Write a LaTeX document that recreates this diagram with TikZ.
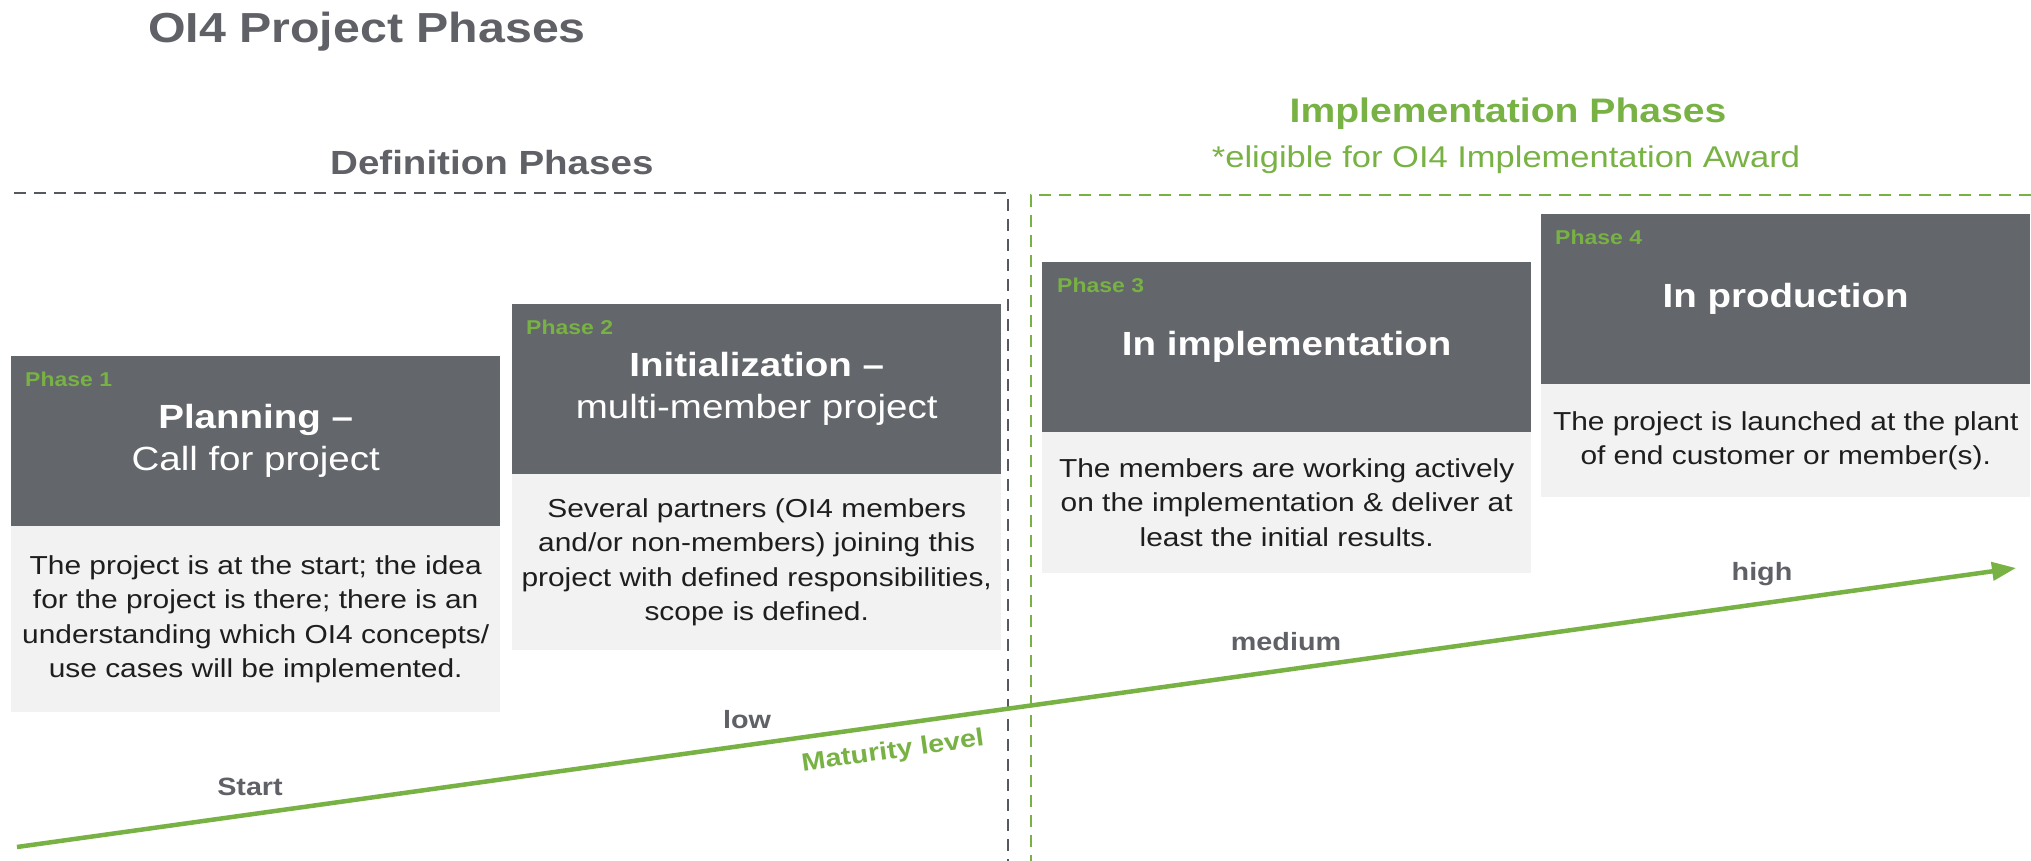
\documentclass[tikz,border=0pt]{standalone}
\usepackage{fontspec}
\setmainfont{Liberation Sans}[FakeStretch=1.15]
\usetikzlibrary{arrows.meta}
\definecolor{dgray}{HTML}{63666A}
\definecolor{lgray}{HTML}{F2F2F2}
\definecolor{tgray}{HTML}{5F6166}
\definecolor{dashgray}{HTML}{55585D}
\definecolor{ogreen}{HTML}{78B244}
\definecolor{bodyc}{HTML}{1E1E1E}
\newcommand{\fsz}[2]{\fontsize{#1}{#2}\selectfont}
\begin{document}
\begin{tikzpicture}[x=1pt,y=-1pt,
  dark/.style={fill=dgray, minimum width=489, minimum height=170, anchor=north west,
    inner sep=0, text=white, align=center, font=\fsz{33.5}{42}},
  light/.style={fill=lgray, minimum width=489, anchor=north west, inner sep=0,
    text=bodyc, align=center, font=\fsz{26}{34.5}},
  phase/.style={anchor=base west, inner sep=0, text=ogreen, font=\fsz{20}{24}\bfseries},
  lvl/.style={anchor=base, inner sep=0, text=tgray, font=\fsz{25}{30}\bfseries},
  gdash/.style={draw=dashgray, line width=2.5, dash pattern=on 12 off 8},
  grdash/.style={draw=ogreen, line width=2.5, dash pattern=on 12 off 8},
  arrowline/.style={draw=ogreen, line width=4.5, -{Triangle[length=24,width=18]}}
]
\useasboundingbox (0,0) rectangle (2031,861);

% title and section headers
\node[anchor=base west, inner sep=0, text=tgray, font=\fsz{42}{50}\bfseries] (title) at (148,43) {OI4 Project Phases};
\node[anchor=base west, inner sep=0, text=tgray, font=\fsz{33.5}{40}\bfseries] (defh) at (330,175) {Definition Phases};
\node[anchor=base, inner sep=0, text=ogreen, font=\fsz{34}{40}\bfseries] (imph) at (1508,123) {Implementation Phases};
\node[anchor=base, inner sep=0, text=ogreen, font=\fsz{30}{36}] (elig) at (1506,168) {*eligible for OI4 Implementation Award};

% dashed frames
\draw[gdash] (14,193) -- (1008,193) -- (1008,861);
\draw[grdash] (2031,195) -- (1031,195) -- (1031,861);

% boxes
\node[dark] (h1) at (11,356) {\textbf{Planning –}\\Call for project};
\node[light, minimum height=186] (b1) at (11,526) {The project is at the start; the idea\\for the project is there; there is an\\understanding which OI4 concepts/\\use cases will be implemented.};
\node[phase] (p1) at (25,386) {Phase 1};

\node[dark] (h2) at (512,304) {\textbf{Initialization –}\\multi-member project};
\node[light, minimum height=176] (b2) at (512,474) {Several partners (OI4 members\\and/or non-members) joining this\\project with defined responsibilities,\\scope is defined.};
\node[phase] (p2) at (526,334) {Phase 2};

\node[dark] (h3) at (1042,262) {\textbf{In implementation}};
\node[light, minimum height=141] (b3) at (1042,432) {The members are working actively\\on the implementation \& deliver at\\least the initial results.};
\node[phase] (p3) at (1057,292) {Phase 3};

\node[dark] (h4) at (1541,214) {\textbf{In production}};
\node[light, minimum height=113] (b4) at (1541,384) {The project is launched at the plant\\of end customer or member(s).};
\node[phase] (p4) at (1555,244) {Phase 4};

% maturity arrow
\coordinate (a0) at (17,847);
\coordinate (a1) at (2016,568);
\draw[arrowline] (a0) -- (a1);

\node[lvl] (start) at (250,795) {Start};
\node[lvl] (low) at (747,728) {low};
\node[lvl] (medium) at (1286,650) {medium};
\node[lvl] (high) at (1762,580) {high};
\node[inner sep=0, text=ogreen, font=\fsz{25}{30}\bfseries, rotate=8] (mat) at (893,752) {Maturity level};
\end{tikzpicture}
\end{document}
